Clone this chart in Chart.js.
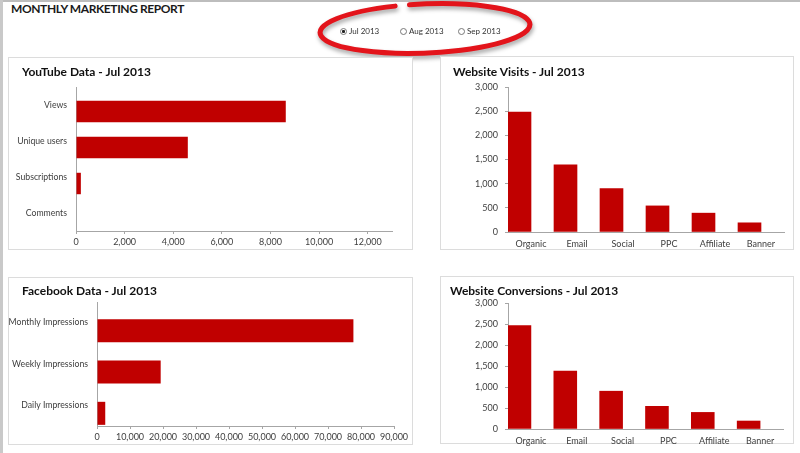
<!DOCTYPE html>
<html>
<head>
<meta charset="utf-8">
<script src="https://cdn.jsdelivr.net/npm/chart.js@4.4.0/dist/chart.umd.min.js"></script>
<style>
  html, body { margin: 0; padding: 0; }
  body { width: 800px; height: 453px; position: relative; background: #ffffff; overflow: hidden; font-family: Lato, "Open Sans", sans-serif; }
  .frame-top { position: absolute; left: 0; top: 0; width: 800px; height: 2px; background: #bdbdbd; }
  .frame-left { position: absolute; left: 0; top: 0; width: 3px; height: 453px; background: #c9c9c9; }
  .header { position: absolute; left: 11px; top: 1px; font-weight: bold; font-size: 12px; letter-spacing: -0.4px; color: #1a1a1a; }
  .panel { position: absolute; box-sizing: border-box; border: 1px solid #dcdcdc; background: #fff; }
  .chartbox { position: absolute; }
  .ctitle { position: absolute; font-weight: bold; font-size: 12px; line-height: 14px; color: #111; white-space: nowrap; }
  #ellipse { position: absolute; left: 290px; top: 0px; }
  .radio { position: absolute; font-size: 8px; color: #333; line-height: 10px; }
  .radio .dot { position: absolute; left: 0; top: 2px; width: 5px; height: 5px; border: 1px solid #777; border-radius: 50%; background: #fff; }
  .radio .dot.on::after { content: ""; position: absolute; left: 1px; top: 1px; width: 3px; height: 3px; background: #222; border-radius: 1px; }
  .radio span { position: absolute; left: 9px; top: 0; white-space: nowrap; }
</style>
</head>
<body>
<div class="frame-top"></div>
<div class="frame-left"></div>
<div class="header" id="header"></div>
<canvas id="ellipse" width="260" height="64"></canvas>
<div id="radios"></div>

<div class="panel" style="left:8px;top:57px;width:405px;height:193px;"></div>
<div class="panel" style="left:440px;top:56px;width:354px;height:194px;"></div>
<div class="panel" style="left:8px;top:277px;width:405px;height:168px;"></div>
<div class="panel" style="left:440px;top:276px;width:354px;height:168px;"></div>

<div class="chartbox" style="left:0px;top:58px;width:412px;height:193px;"><canvas id="yt"></canvas></div>
<div class="chartbox" style="left:441px;top:57px;width:352px;height:195px;"><canvas id="visits"></canvas></div>
<div class="chartbox" style="left:0px;top:278px;width:412px;height:168px;"><canvas id="fb"></canvas></div>
<div class="chartbox" style="left:441px;top:277px;width:352px;height:172px;"><canvas id="conv"></canvas></div>

<div class="ctitle" id="t-yt" style="left:22px;top:65px;"></div>
<div class="ctitle" id="t-visits" style="left:453px;top:65px;"></div>
<div class="ctitle" id="t-fb" style="left:22px;top:284px;"></div>
<div class="ctitle" id="t-conv" style="left:450px;top:284px;"></div>

<script>
// ---- data ----
const reportTitle = 'MONTHLY MARKETING REPORT';
const monthOptions = ['Jul 2013', 'Aug 2013', 'Sep 2013'];
const selectedMonth = 'Jul 2013';

const youtubeCategories = ['Views', 'Unique users', 'Subscriptions', 'Comments'];
const youtubeValues = [8630, 4600, 200, 0];
const youtubeTicks = [0, 2000, 4000, 6000, 8000, 10000, 12000];

const facebookCategories = ['Monthly Impressions', 'Weekly Impressions', 'Daily Impressions'];
const facebookValues = [77700, 19300, 2500];
const facebookTicks = [0, 10000, 20000, 30000, 40000, 50000, 60000, 70000, 80000, 90000];

const sourceCategories = ['Organic', 'Email', 'Social', 'PPC', 'Affiliate', 'Banner'];
const visitValues = [2480, 1390, 900, 540, 390, 190];
const conversionValues = [2460, 1380, 900, 540, 395, 190];
const sourceTicks = [0, 500, 1000, 1500, 2000, 2500, 3000];

// ---- header / selector ----
document.getElementById('header').textContent = reportTitle;
document.getElementById('t-yt').textContent = 'YouTube Data - ' + selectedMonth;
document.getElementById('t-visits').textContent = 'Website Visits - ' + selectedMonth;
document.getElementById('t-fb').textContent = 'Facebook Data - ' + selectedMonth;
document.getElementById('t-conv').textContent = 'Website Conversions - ' + selectedMonth;

const radioX = [340, 400, 458];
const radiosEl = document.getElementById('radios');
monthOptions.forEach((m, i) => {
  const d = document.createElement('div');
  d.className = 'radio';
  d.style.left = radioX[i] + 'px';
  d.style.top = '26px';
  d.innerHTML = '<div class="dot' + (m === selectedMonth ? ' on' : '') + '"></div><span>' + m + '</span>';
  radiosEl.appendChild(d);
});

// decorative red ellipse around the selector
(function () {
  const c = document.getElementById('ellipse');
  const ctx = c.getContext('2d');
  const cx = 425 - 290, cy = 28.5, rx = 105, ry = 24.5;
  const rot = -2.3 * Math.PI / 180;
  const deg = Math.PI / 180;
  ctx.save();
  ctx.shadowColor = 'rgba(0,0,0,0.35)';
  ctx.shadowBlur = 4;
  ctx.shadowOffsetX = 1;
  ctx.shadowOffsetY = 3;
  ctx.strokeStyle = '#e3141b';
  ctx.lineWidth = 5;
  ctx.lineCap = 'round';
  ctx.beginPath();
  ctx.ellipse(cx, cy, rx, ry, rot, 262 * deg, (254 + 360) * deg, false);
  ctx.stroke();
  ctx.restore();
})();

// ---- charts ----
Chart.defaults.font.family = 'Lato, "Open Sans", sans-serif';
Chart.defaults.font.size = 9;
Chart.defaults.color = '#404040';
Chart.defaults.animation = false;

const BAR = '#c00000';
const AXIS = '#a6a6a6';
const LABEL = '#404040';

function valueAxis(min, max, ticksList, pad, fixed) {
  return {
    type: 'linear', min: min, max: max,
    afterBuildTicks: (s) => { s.ticks = ticksList.map((v) => ({ value: v })); },
    ticks: {
      padding: pad, color: LABEL, maxRotation: 0, minRotation: 0, autoSkip: false,
      callback: (v) => Number(v).toLocaleString('en-US')
    },
    grid: { display: true, drawOnChartArea: false, drawTicks: true, tickLength: 3, color: AXIS },
    border: { display: true, color: AXIS },
    afterFit: fixed
  };
}

function categoryAxis(pad, size, fixed) {
  return {
    type: 'category',
    grid: { display: false, drawTicks: false, tickLength: 0 },
    border: { display: true, color: AXIS },
    ticks: { padding: pad, color: LABEL, font: { size: size }, maxRotation: 0, minRotation: 0, autoSkip: false },
    afterFit: fixed
  };
}

// The source workbook plots a second, empty series in each chart, so every
// visible bar sits off-centre in its category band. An empty dataset keeps that slot.
function emptySlot() {
  return { label: '', data: [], backgroundColor: 'rgba(0,0,0,0)', borderWidth: 0 };
}

function hbar(id, labels, values, pad, yWidth, xMax, xTicks, catPct, barPct) {
  return new Chart(document.getElementById(id), {
    type: 'bar',
    data: {
      labels: labels,
      datasets: [emptySlot(), { label: selectedMonth, data: values, backgroundColor: BAR, borderWidth: 0 }]
    },
    options: {
      indexAxis: 'y', responsive: true, maintainAspectRatio: false, locale: 'en-US',
      datasets: { bar: { categoryPercentage: catPct, barPercentage: barPct } },
      layout: { padding: pad },
      plugins: { legend: { display: false }, tooltip: { enabled: false }, title: { display: false } },
      scales: {
        x: valueAxis(0, xMax, xTicks, 3, (s) => { s.height = 20; }),
        y: categoryAxis(9, 8.7, (s) => { s.width = yWidth; })
      }
    }
  });
}

function vbar(id, labels, values, pad, yWidth) {
  return new Chart(document.getElementById(id), {
    type: 'bar',
    data: {
      labels: labels,
      datasets: [{ label: selectedMonth, data: values, backgroundColor: BAR, borderWidth: 0 }, emptySlot()]
    },
    options: {
      responsive: true, maintainAspectRatio: false, locale: 'en-US',
      datasets: { bar: { categoryPercentage: 1, barPercentage: 1 } },
      layout: { padding: pad },
      plugins: { legend: { display: false }, tooltip: { enabled: false }, title: { display: false } },
      scales: {
        x: categoryAxis(7, 9, (s) => { s.height = 20; }),
        y: valueAxis(0, 3000, sourceTicks, 7, (s) => { s.width = yWidth; })
      }
    }
  });
}

hbar('yt', youtubeCategories, youtubeValues,
  { left: 0, right: 20, top: 29, bottom: 0 }, 76, 13000, youtubeTicks, 0.722, 1.65);

vbar('visits', sourceCategories, visitValues,
  { left: 0, right: 9, top: 30, bottom: 0 }, 67);

hbar('fb', facebookCategories, facebookValues,
  { left: 0, right: 18, top: 24, bottom: 0 }, 97, 90000, facebookTicks, 0.774, 1.44);

vbar('conv', sourceCategories, conversionValues,
  { left: 0, right: 10, top: 26, bottom: 0 }, 67);
</script>
</body>
</html>
